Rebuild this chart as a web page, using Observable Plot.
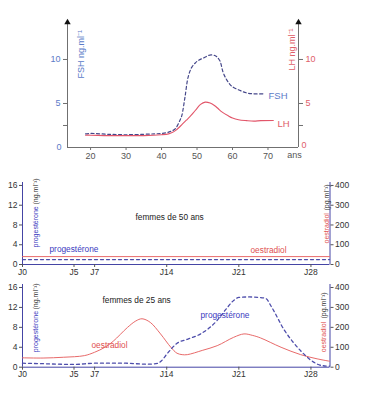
<!DOCTYPE html>
<html><head><meta charset="utf-8">
<script src="https://cdn.jsdelivr.net/npm/d3@7"></script>
<script src="https://cdn.jsdelivr.net/npm/@observablehq/plot@0.6"></script>
<style>
body{margin:0;background:#fff;}
#c{position:relative;width:367px;height:401px;overflow:hidden;font-family:"Liberation Sans",Arial,sans-serif;}
#c svg{position:absolute;left:0;top:0;overflow:visible;}
</style></head><body><div id="c"></div>
<script>
// ---- Top chart: FSH / LH vs age ----
const fshAge = [18.6, 20, 25, 30, 35, 38, 40, 42, 43.8, 45.2, 45.7, 46.6, 47.5, 48.5, 49.5, 50.4, 52, 53.6, 55, 55.6, 56.5, 57.3, 58.2, 59.2, 60, 62, 64, 65.8, 68.6];
const fshVal = [1.55, 1.6, 1.5, 1.45, 1.5, 1.55, 1.6, 1.75, 2.1, 3.1, 3.6, 5.7, 8.0, 9.1, 9.6, 9.9, 10.2, 10.5, 10.45, 10.3, 9.8, 8.6, 7.8, 7.2, 6.9, 6.5, 6.2, 6.1, 6.1];
const lhAge = [18.6, 20, 25, 30, 35, 40, 42, 43, 44, 45, 46, 47, 48, 49, 50, 51, 52.3, 53.7, 55, 56, 57, 58.8, 60, 61.7, 64, 66, 68, 71.5];
const lhVal = [1.4, 1.4, 1.35, 1.35, 1.35, 1.45, 1.55, 1.7, 1.95, 2.3, 2.7, 3.1, 3.5, 3.95, 4.45, 4.9, 5.15, 5.05, 4.75, 4.4, 4.05, 3.6, 3.35, 3.15, 3.05, 3.0, 3.05, 3.07];
const ageTicks = [20, 30, 40, 50, 60, 70];
const hormTicks = [2.5, 5, 10];

// ---- Menstrual cycle charts ----
const dayTicks = [0, 5, 7, 14, 21, 28];
const progTicks = [0, 4, 8, 12, 16];          // ng/ml
const oestPerProg = 25;                        // 4 ng/ml on left = 100 pg/ml on right
// women aged 50
const days50 = [0, 29.8];
const prog50 = [1.0, 1.0];
const oest50 = [40, 40];
// women aged 25
const progDays25 = [0, 2, 5, 7, 10, 12, 13.1, 13.5, 14, 14.5, 15, 16, 17.3, 18.2, 18.9, 19.7, 20.5, 21, 22, 23, 23.6, 24.2, 25.4, 26.2, 27, 28, 29, 29.8];
const prog25 = [0.8, 0.7, 0.55, 0.8, 0.8, 0.6, 0.75, 1.3, 2.6, 3.8, 4.8, 5.6, 6.7, 8.0, 9.4, 11.5, 13.4, 14.0, 14.1, 14.0, 13.8, 12.0, 7.5, 5.2, 3.3, 1.4, 0.35, 0.2];
const oestDays25 = [0, 2, 4, 6, 7, 8, 8.8, 10.2, 11, 11.6, 12.4, 13.4, 14.4, 15, 15.5, 16, 17.5, 18.9, 20.5, 21.5, 22.3, 23.1, 25.1, 27, 28.6, 29.8];
const oest25 = [47, 46, 50, 58, 75, 100, 130, 200, 232, 243, 225, 167, 100, 70, 63, 63, 85, 108, 150, 167, 160, 147, 100, 63, 42, 30];

const W = 367, H = 401;
const FONT = '"Liberation Sans", Arial, sans-serif';
const grayAxis = "#707070";
const fshLine = "#45478a", fshText = "#5b7bc8";
const lhLine = "#e2566a", lhText = "#e0606a";
const cycAxis = "#4545a5", progLine = "#4d4dab", progText = "#3b3bc0";
const oestLine = "#e86a6a", oestText = "#e05050", dark = "#333";

const c = document.getElementById("c");
const baseStyle = {background: "transparent", fontFamily: FONT, fontSize: "9px", overflow: "visible"};

const fsh = fshAge.map((a, i) => ({a, v: fshVal[i]}));
const lh = lhAge.map((a, i) => ({a, v: lhVal[i]}));
const xTop = [13.5, 78.6], yTop = [0, 14.2];

const topPlot = Plot.plot({
  width: W, height: H,
  marginLeft: 67, marginRight: 69, marginTop: 22, marginBottom: 254,
  x: {domain: xTop, axis: null},
  y: {domain: yTop, axis: null},
  style: baseStyle,
  marks: [
    Plot.ruleX([xTop[0], xTop[1]], {stroke: grayAxis}),
    Plot.ruleY([0], {stroke: grayAxis}),
    Plot.axisY({ticks: hormTicks, tickSize: 4, tickPadding: 3, tickFormat: d => d === 2.5 ? "" : d, stroke: grayAxis, fill: fshText, label: null}),
    Plot.axisY({ticks: [0], tickSize: 0, tickPadding: 6, fill: fshText, label: null}),
    Plot.axisY({anchor: "right", ticks: hormTicks, tickSize: 4, tickPadding: 3, tickFormat: d => d === 2.5 ? "" : d, stroke: grayAxis, fill: lhText, label: null}),
    Plot.axisY({anchor: "right", ticks: [0], tickSize: 0, tickPadding: 3, fill: lhText, label: null, dy: -2}),
    Plot.axisX({ticks: ageTicks, tickSize: 3, tickPadding: 2, stroke: grayAxis, fill: "#555", label: null}),
    Plot.line(fsh, {x: "a", y: "v", stroke: fshLine, strokeWidth: 1.2, strokeDasharray: "3,2.5", curve: "catmull-rom"}),
    Plot.line(lh, {x: "a", y: "v", stroke: lhLine, strokeWidth: 1.1, curve: "catmull-rom"}),
    Plot.dot([0], {frameAnchor: "top-left", symbol: "triangle", r: 2.4, fill: "#111"}),
    Plot.dot([0], {frameAnchor: "top-right", symbol: "triangle", r: 2.4, fill: "#111"}),
    Plot.text(["FSH ng.ml⁻¹"], {text: d => d, frameAnchor: "top-left", dx: 10, dy: 56, rotate: -90, textAnchor: "start", fill: fshText, fontSize: 9}),
    Plot.text(["LH ng.ml⁻¹"], {text: d => d, frameAnchor: "top-right", dx: -10, dy: 48, rotate: -90, textAnchor: "start", fill: lhText, fontSize: 9}),
    Plot.text(["FSH"], {text: d => d, frameAnchor: "top-left", dx: 201, dy: 70, textAnchor: "start", fill: fshText, fontSize: 9.5}),
    Plot.text(["LH"], {text: d => d, frameAnchor: "top-left", dx: 210, dy: 98, textAnchor: "start", fill: lhText, fontSize: 9.5}),
    Plot.text(["ans"], {text: d => d, frameAnchor: "bottom-right", dx: -4, dy: 10, textAnchor: "middle", fill: "#555", fontSize: 9})
  ]
});
c.appendChild(topPlot);

const xCyc = [0, 29.85], yCyc = [0, 16.6];
function cyclePlot(mTop, mBottom, marks, texts) {
  return Plot.plot({
    width: W, height: H,
    marginLeft: 22, marginRight: 37.5, marginTop: mTop, marginBottom: mBottom,
    x: {domain: xCyc, axis: null},
    y: {domain: yCyc, axis: null},
    style: baseStyle,
    marks: [
      Plot.ruleX([xCyc[0], xCyc[1]], {stroke: cycAxis}),
      Plot.ruleY([0], {stroke: cycAxis}),
      Plot.axisY({ticks: progTicks, tickSize: 3, tickPadding: 2, stroke: "#555", fill: dark, label: null, fontSize: 8.5}),
      Plot.axisY({anchor: "right", ticks: progTicks, tickSize: 3, tickPadding: 2, tickFormat: d => d * oestPerProg, stroke: "#555", fill: dark, label: null, fontSize: 8.5}),
      Plot.axisX({ticks: dayTicks, tickSize: 3, tickPadding: 1, tickFormat: d => "J" + d, stroke: "#555", fill: dark, label: null, fontSize: 8.5}),
      ...marks,
      ...texts
    ]
  });
}
const rot = (s, anchor, dx, dy, fill) => Plot.text([s], {text: d => d, frameAnchor: anchor, dx, dy, rotate: -90, textAnchor: "start", fill, fontSize: 7});
const lab = (s, dx, dy, fill, weight) => Plot.text([s], {text: d => d, frameAnchor: "top-left", dx, dy, textAnchor: "start", fill, fontSize: 8.3, fontWeight: weight || "normal"});

const d50 = days50.map((d, i) => ({d, p: prog50[i], o: oest50[i] / oestPerProg}));
const mid = cyclePlot(182, 137, [
  Plot.line(d50, {x: "d", y: "o", stroke: oestLine, strokeWidth: 1}),
  Plot.line(d50, {x: "d", y: "p", stroke: progLine, strokeWidth: 1.3, strokeDasharray: "3,3"})
], [
  rot("progestérone", "top-left", 11, 65, progText),
  rot("(ng.ml⁻¹)", "top-left", 11, 22, dark),
  rot("oestradiol", "top-right", -5.5, 61, oestText),
  rot("(pg.ml⁻¹)", "top-right", -5.5, 28, dark),
  lab("progestérone", 27, 64, progText),
  lab("oestradiol", 228, 65, oestText),
  lab("femmes de 50 ans", 113, 32, "#222")
]);
c.appendChild(mid);

const p25 = progDays25.map((d, i) => ({d, v: prog25[i]}));
const o25 = oestDays25.map((d, i) => ({d, v: oest25[i] / oestPerProg}));
const bot = cyclePlot(284, 34.3, [
  Plot.line(o25, {x: "d", y: "v", stroke: oestLine, strokeWidth: 1, curve: "catmull-rom"}),
  Plot.line(p25, {x: "d", y: "v", stroke: progLine, strokeWidth: 1.3, strokeDasharray: "3,3", curve: "monotone-x"})
], [
  rot("progestérone", "top-left", 11, 67.7, progText),
  rot("(ng.ml⁻¹)", "top-left", 11, 25, dark),
  rot("oestradiol", "top-right", -9, 67.7, oestText),
  rot("(pg.ml⁻¹)", "top-right", -9, 34, dark),
  lab("progestérone", 178, 27.7, progText),
  lab("oestradiol", 69, 58, oestText),
  lab("femmes de 25 ans", 80, 13, "#222")
]);
c.appendChild(bot);
</script></body></html>
